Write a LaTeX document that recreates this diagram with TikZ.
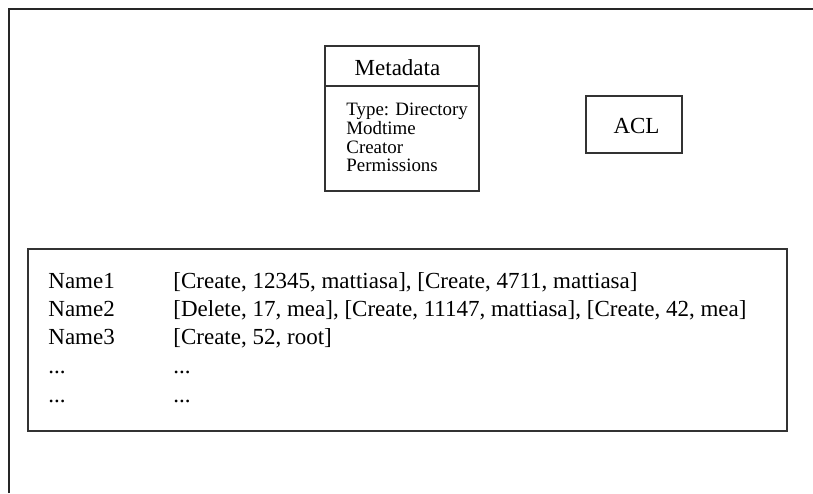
\documentclass[tikz,border=0pt]{standalone}
\usepackage{fontspec}
\setmainfont{Liberation Serif}
\begin{document}
\begin{tikzpicture}[x=0.5pt,y=-0.5pt,
  frame/.style={line width=1pt, draw=black!85},
  box/.style={draw=black!80, line width=0.7pt, rectangle, inner sep=0pt},
  big/.style={font=\fontsize{11.5}{13}\selectfont, inner sep=0pt},
  small/.style={font=\fontsize{9.45}{9.4}\selectfont, inner sep=0pt}]
  \useasboundingbox (0,0) rectangle (813,493);
  % outer frame (top and left edges)
  \coordinate (fbl) at (9,493);
  \coordinate (ftl) at (9,9);
  \coordinate (ftr) at (813,9);
  \draw[frame] (fbl) -- (ftl) -- (ftr);

  % metadata record
  \node[box, minimum width=77pt, minimum height=72.5pt] (meta) at (402,118.5) {};
  \coordinate (divl) at (325,86);
  \coordinate (divr) at (479,86);
  \draw[draw=black!80, line width=0.7pt] (divl) -- (divr);
  \node[big, anchor=base] (metatitle) at (397.5,75) {Metadata};
  \node[small, anchor=base west] (m1) at (346,115.5) {Type: Directory};
  \node[small, anchor=base west] (m2) at (346,134.3) {Modtime};
  \node[small, anchor=base west] (m3) at (346,153.1) {Creator};
  \node[small, anchor=base west] (m4) at (346,171.9) {Permissions};

  % access control list
  \node[box, minimum width=48pt, minimum height=28.5pt] (acl) at (634,124.5) {};
  \node[big, anchor=base] (acltext) at (636.5,133) {ACL};

  % directory entries
  \node[box, minimum width=379.5pt, minimum height=91pt] (entries) at (407.5,340) {};
  \node[big, anchor=base west] (n1) at (48,288) {Name1};
  \node[big, anchor=base west] (v1) at (173,288) {[Create, 12345, mattiasa], [Create, 4711, mattiasa]};
  \node[big, anchor=base west] (n2) at (48,316) {Name2};
  \node[big, anchor=base west] (v2) at (173,316) {[Delete, 17, mea], [Create, 11147, mattiasa], [Create, 42, mea]};
  \node[big, anchor=base west] (n3) at (48,344) {Name3};
  \node[big, anchor=base west] (v3) at (173,344) {[Create, 52, root]};
  \node[big, anchor=base west] (n4) at (48,373) {...};
  \node[big, anchor=base west] (v4) at (173,373) {...};
  \node[big, anchor=base west] (n5) at (48,402) {...};
  \node[big, anchor=base west] (v5) at (173,402) {...};
\end{tikzpicture}
\end{document}
